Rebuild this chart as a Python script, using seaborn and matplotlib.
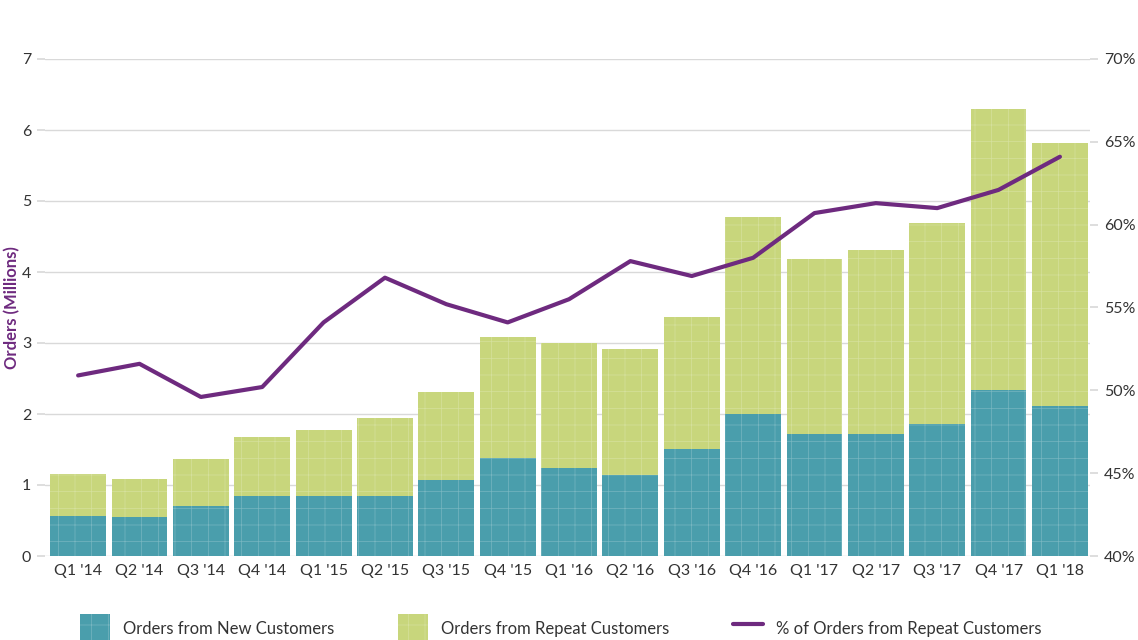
import matplotlib
matplotlib.use("Agg")
import matplotlib.pyplot as plt
from matplotlib.patches import Patch
from matplotlib.lines import Line2D
import seaborn as sns
import numpy as np

quarters = ["Q1 '14", "Q2 '14", "Q3 '14", "Q4 '14", "Q1 '15", "Q2 '15", "Q3 '15", "Q4 '15",
            "Q1 '16", "Q2 '16", "Q3 '16", "Q4 '16", "Q1 '17", "Q2 '17", "Q3 '17", "Q4 '17", "Q1 '18"]
# totals (millions) = new + repeat
total_orders = [1.16, 1.08, 1.37, 1.67, 1.78, 1.95, 2.31, 3.08,
                3.00, 2.92, 3.37, 4.77, 4.18, 4.31, 4.69, 6.30, 5.82]
new_orders = [0.56, 0.55, 0.70, 0.85, 0.85, 0.85, 1.07, 1.38,
              1.24, 1.14, 1.51, 2.00, 1.72, 1.72, 1.86, 2.34, 2.11]
repeat_pct = [50.9, 51.6, 49.6, 50.2, 54.1, 56.8, 55.2, 54.1,
              55.5, 57.8, 56.9, 58.0, 60.7, 61.3, 61.0, 62.1, 64.1]

teal = "#4a9eac"
green = "#c8d67c"
purple = "#6e2a7f"
grid_c = "#d9d9d9"
text_c = "#333333"
texture = (1, 1, 1, 0.25)

sns.set_theme(style="white")
plt.rcParams["font.family"] = ["Lato", "DejaVu Sans"]
plt.rcParams["hatch.linewidth"] = 0.5

fig = plt.figure(figsize=(11.38, 6.4), dpi=100)
ax = fig.add_axes([45 / 1138, 1 - 556 / 640, (1090 - 45) / 1138, (556 - 59) / 640])

sns.barplot(x=quarters, y=total_orders, color=green, width=0.91, ax=ax,
            saturation=1, edgecolor=texture, linewidth=0, hatch="+")
sns.barplot(x=quarters, y=new_orders, color=teal, width=0.91, ax=ax,
            saturation=1, edgecolor=texture, linewidth=0, hatch="+")

ax.set_ylim(0, 7)
ax.set_xlim(-0.54, 16.49)
ax.set_yticks(range(0, 8))
ax.yaxis.grid(True, color=grid_c, linewidth=1)
ax.set_axisbelow(True)
for s in ax.spines.values():
    s.set_visible(False)
ax.tick_params(axis="y", length=6, color=grid_c, labelsize=11.5, labelcolor=text_c, pad=4)
ax.tick_params(axis="x", length=0, labelsize=11.5, labelcolor=text_c, pad=6)
ax.set_ylabel("Orders (Millions)", color=purple, fontsize=12, fontweight="bold", labelpad=1)
ax.set_xlabel("")

ax2 = ax.twinx()
sns.lineplot(x=np.arange(len(quarters)), y=repeat_pct, color=purple, linewidth=3, ax=ax2)
ax2.set_ylim(40, 70)
ax2.set_yticks(range(40, 71, 5))
ax2.set_yticklabels([f"{v}%" for v in range(40, 71, 5)])
ax2.tick_params(axis="y", length=6, color=grid_c, labelsize=11.5, labelcolor=text_c, pad=4)
for s in ax2.spines.values():
    s.set_visible(False)
ax2.set_ylabel("")

handles = [
    Patch(facecolor=teal, edgecolor=texture, hatch="+", linewidth=0),
    Patch(facecolor=green, edgecolor=texture, hatch="+", linewidth=0),
    Line2D([0], [0], color=purple, linewidth=3),
]
labels = ["Orders from New Customers", "Orders from Repeat Customers",
          "% of Orders from Repeat Customers"]
fig.legend(handles, labels, loc="lower left", bbox_to_anchor=(80 / 1138, -0.0036), ncol=3,
           frameon=False, fontsize=12, handlelength=1.8, handleheight=2.2,
           borderpad=0, borderaxespad=0,
           columnspacing=3.8, handletextpad=0.8, labelcolor=text_c)

fig.savefig("out.png", dpi=100)
